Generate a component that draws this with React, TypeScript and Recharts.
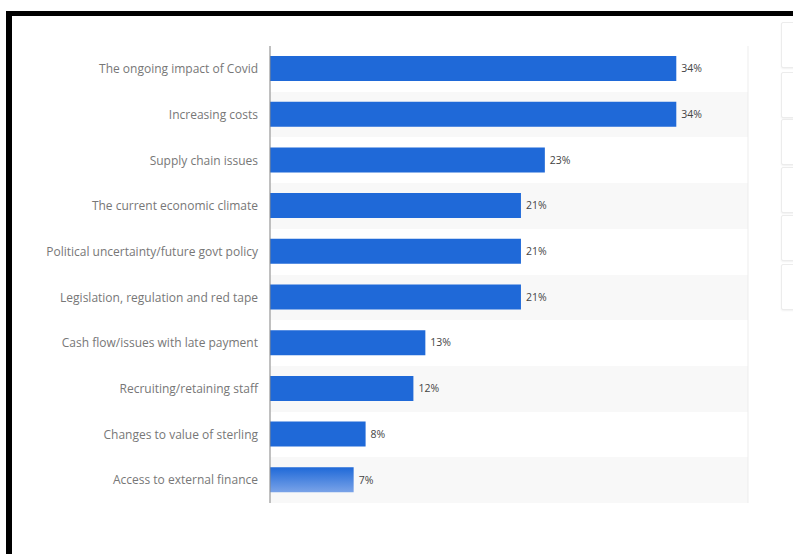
import { BarChart, Bar, XAxis, YAxis, CartesianGrid, LabelList, Cell } from 'recharts';

const categories = [
  'The ongoing impact of Covid',
  'Increasing costs',
  'Supply chain issues',
  'The current economic climate',
  'Political uncertainty/future govt policy',
  'Legislation, regulation and red tape',
  'Cash flow/issues with late payment',
  'Recruiting/retaining staff',
  'Changes to value of sterling',
  'Access to external finance',
];
const shares = [34, 34, 23, 21, 21, 21, 13, 12, 8, 7];
const xTicks = [0, 5, 10, 15, 20, 25, 30, 35, 40];

const data = categories.map((name, i) => ({ name, value: shares[i] }));

const BLUE = '#1f69d8';

// row edges for the zebra stripes, one per category band
const bandEdges = ({ yAxis, offset }: any) => {
  const scale = yAxis?.scale;
  if (typeof scale === 'function') return categories.map((c) => scale(c));
  if (scale && typeof scale.map === 'function') {
    return categories.map((c) => scale.map(c, { position: 'start' }));
  }
  if (!offset) return [];
  const step = offset.height / categories.length;
  return categories.map((_, i) => offset.top + i * step);
};

const sideBoxes = [22, 72, 119, 167, 215, 264];

export default function App() {
  return (
    <div style={{ position: 'absolute', left: 0, top: 0, width: 793, height: 554, overflow: 'hidden', background: '#fff' }}>
      {/* black frame */}
      <div
        style={{
          position: 'absolute',
          left: 6,
          top: 11,
          width: 820,
          height: 600,
          borderTop: '5px solid #000',
          borderLeft: '6px solid #000',
        }}
      />
      {/* side panel fragments on the right edge */}
      {sideBoxes.map((t) => (
        <div
          key={t}
          style={{
            position: 'absolute',
            left: 781,
            top: t,
            width: 40,
            height: 44,
            border: '1px solid #ececec',
            borderRadius: 2,
            boxShadow: '0 1px 2px rgba(0,0,0,0.06)',
            background: '#fff',
          }}
        />
      ))}
      <div style={{ position: 'absolute', left: 0, top: 0 }}>
        <BarChart
          width={760}
          height={520}
          data={data}
          layout="vertical"
          margin={{ top: 46, right: 12, bottom: 15, left: 0 }}
          barCategoryGap="45%"
        >
          <defs>
            <linearGradient id="fadeBar" x1="0" y1="0" x2="0" y2="1">
              <stop offset="0%" stopColor={BLUE} />
              <stop offset="100%" stopColor="#7aa3e8" />
            </linearGradient>
          </defs>
          <CartesianGrid
            vertical={false}
            stroke="none"
            horizontalFill={['#ffffff', '#f8f8f8']}
            horizontalCoordinatesGenerator={bandEdges}
          />
          <CartesianGrid horizontal={false} stroke="#ededed" />
          <XAxis
            type="number"
            domain={[0, 40]}
            ticks={xTicks}
            tick={false}
            axisLine={false}
            tickLine={false}
            height={2}
          />
          <YAxis
            type="category"
            dataKey="name"
            width={270}
            axisLine={{ stroke: '#8a8a8a' }}
            tickLine={false}
            tickMargin={6}
            interval={0}
            tick={{ fontSize: 12, fill: '#777', fontFamily: 'Open Sans' }}
          />
          <Bar dataKey="value" fill={BLUE} barSize={25} isAnimationActive={false}>
            {data.map((d, i) => (
              <Cell key={d.name} fill={i === data.length - 1 ? 'url(#fadeBar)' : BLUE} />
            ))}
            <LabelList
              dataKey="value"
              position="right"
              offset={5}
              formatter={(v: any) => `${v}%`}
              style={{ fontSize: 10.5, fill: '#444', fontWeight: 500, fontFamily: 'Open Sans' }}
            />
          </Bar>
        </BarChart>
      </div>
    </div>
  );
}
